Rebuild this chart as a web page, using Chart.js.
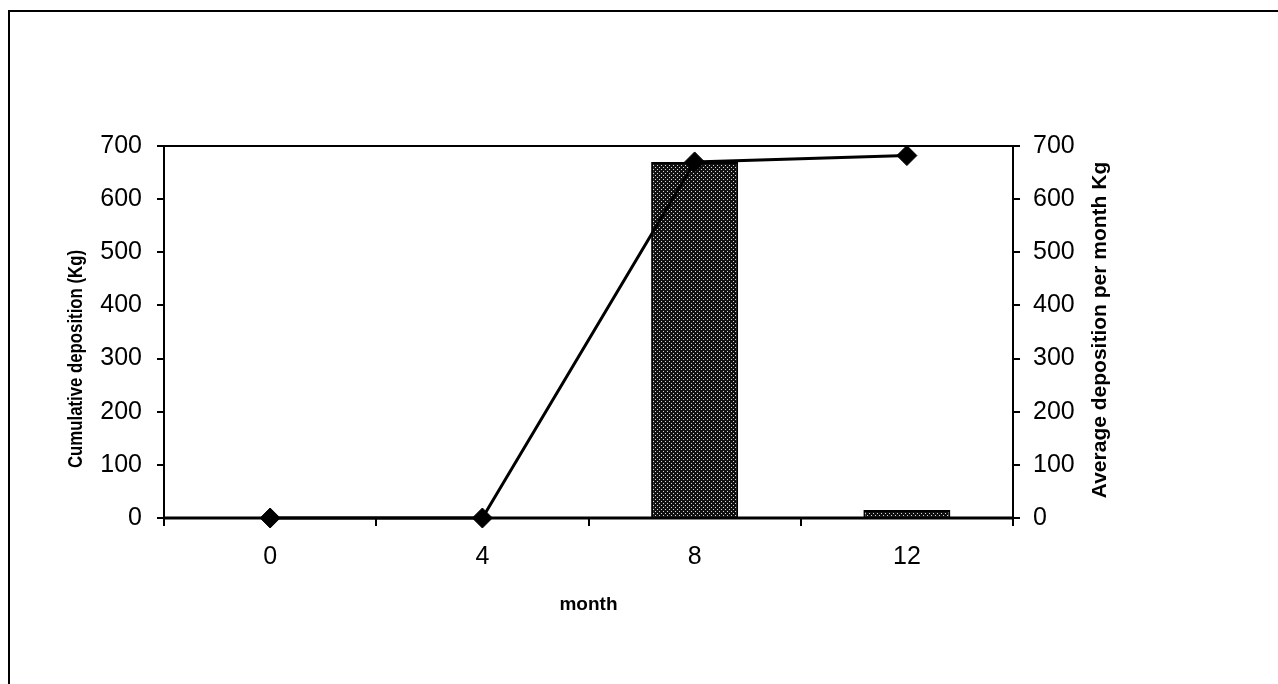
<!DOCTYPE html>
<html>
<head>
<meta charset="utf-8">
<script src="https://cdn.jsdelivr.net/npm/chart.js@4"></script>
<style>
  html, body { margin: 0; padding: 0; background: #fff; }
  #wrap { position: relative; width: 1278px; height: 684px; }
</style>
</head>
<body>
<div id="wrap"><canvas id="c"></canvas></div>
<script>
// Months sampled and the two deposition series (kg)
const months = ['0', '4', '8', '12'];
const cumulativeKg = [0, 0, 670, 682];
const averagePerMonthKg = [0, 0, 670, 15];
const yMin = 0, yMax = 700, yStep = 100;

const FONT = "'Liberation Sans', Arial, sans-serif";

// stippled dark fill for the bars
function stipple() {
  const t = document.createElement('canvas');
  t.width = 4; t.height = 4;
  const g = t.getContext('2d');
  g.fillStyle = '#111';
  g.fillRect(0, 0, 4, 4);
  g.fillStyle = '#d8d8d8';
  g.fillRect(1, 1, 1, 1);
  g.fillRect(3, 3, 1, 1);
  return g.createPattern(t, 'repeat');
}

// page frame, plot frame and axis titles
const decor = {
  id: 'decor',
  beforeDraw(chart) {
    const ctx = chart.ctx;
    ctx.save();
    ctx.fillStyle = '#fff';
    ctx.fillRect(0, 0, chart.width, chart.height);
    ctx.strokeStyle = '#000';
    ctx.lineWidth = 2;
    ctx.beginPath();
    ctx.moveTo(9, chart.height);
    ctx.lineTo(9, 11);
    ctx.lineTo(chart.width, 11);
    ctx.stroke();
    ctx.restore();
  },
  beforeDatasetsDraw(chart) {
    const { ctx, chartArea: a } = chart;
    ctx.save();
    ctx.strokeStyle = '#000';
    ctx.lineWidth = 2;
    ctx.beginPath();
    ctx.moveTo(a.left, a.bottom);
    ctx.lineTo(a.left, a.top);
    ctx.lineTo(a.right, a.top);
    ctx.lineTo(a.right, a.bottom);
    ctx.stroke();
    ctx.lineWidth = 3;
    ctx.beginPath();
    ctx.moveTo(a.left - 1, a.bottom);
    ctx.lineTo(a.right + 1, a.bottom);
    ctx.stroke();
    ctx.restore();
  },
  afterDraw(chart) {
    const ctx = chart.ctx;
    const a = chart.chartArea;
    ctx.save();
    ctx.fillStyle = '#000';
    ctx.textAlign = 'center';
    ctx.textBaseline = 'middle';

    // left title, set narrow
    ctx.save();
    ctx.translate(76, 359);
    ctx.rotate(-Math.PI / 2);
    ctx.font = 'bold 21px ' + FONT;
    const lt = 'Cumulative deposition (Kg)';
    const lw = ctx.measureText(lt).width;
    ctx.scale(218 / lw, 1);
    ctx.fillText(lt, 0, 0);
    ctx.restore();

    // right title
    ctx.save();
    ctx.translate(1100, 330);
    ctx.rotate(-Math.PI / 2);
    ctx.font = 'bold 21px ' + FONT;
    ctx.fillText('Average deposition per month Kg', 0, 0);
    ctx.restore();

    // x title
    ctx.font = 'bold 19px ' + FONT;
    ctx.fillText('month', (a.left + a.right) / 2, 605);
    ctx.restore();
  }
};

const tickFont = { family: FONT, size: 25 };

new Chart(document.getElementById('c'), {
  data: {
    labels: months,
    datasets: [
      {
        type: 'line',
        label: 'Cumulative deposition (Kg)',
        data: cumulativeKg,
        yAxisID: 'y',
        order: 0,
        borderColor: '#000',
        borderWidth: 3,
        tension: 0,
        pointStyle: 'rectRot',
        pointRadius: 10,
        pointBackgroundColor: '#000',
        pointBorderColor: '#000',
        pointBorderWidth: 1,
        clip: false
      },
      {
        type: 'bar',
        label: 'Average deposition per month Kg',
        data: averagePerMonthKg,
        yAxisID: 'y1',
        order: 1,
        backgroundColor: stipple(),
        borderColor: '#000',
        borderWidth: 2,
        barPercentage: 0.41,
        categoryPercentage: 1
      }
    ]
  },
  options: {
    responsive: true,
    maintainAspectRatio: false,
    devicePixelRatio: 1,
    animation: false,
    layout: { padding: { top: 146, left: 0, right: 0, bottom: 0 } },
    plugins: { legend: { display: false }, tooltip: { enabled: false } },
    scales: {
      x: {
        type: 'category',
        offset: true,
        border: { display: false },
        grid: { offset: true, drawOnChartArea: false, color: '#000', lineWidth: 2, tickLength: 8 },
        ticks: { font: tickFont, color: '#000', padding: 16, maxRotation: 0 },
        afterFit(s) { s.height = 166; }
      },
      y: {
        type: 'linear',
        position: 'left',
        min: yMin, max: yMax,
        border: { display: false },
        grid: { drawOnChartArea: false, color: '#000', lineWidth: 2, tickLength: 7 },
        ticks: { stepSize: yStep, font: tickFont, color: '#000', padding: 15 },
        afterFit(s) { s.width = 164; }
      },
      y1: {
        type: 'linear',
        position: 'right',
        min: yMin, max: yMax,
        border: { display: false },
        grid: { drawOnChartArea: false, color: '#000', lineWidth: 2, tickLength: 7 },
        ticks: { stepSize: yStep, font: tickFont, color: '#000', padding: 13 },
        afterFit(s) { s.width = 265; }
      }
    }
  },
  plugins: [decor]
});
</script>
</body>
</html>
